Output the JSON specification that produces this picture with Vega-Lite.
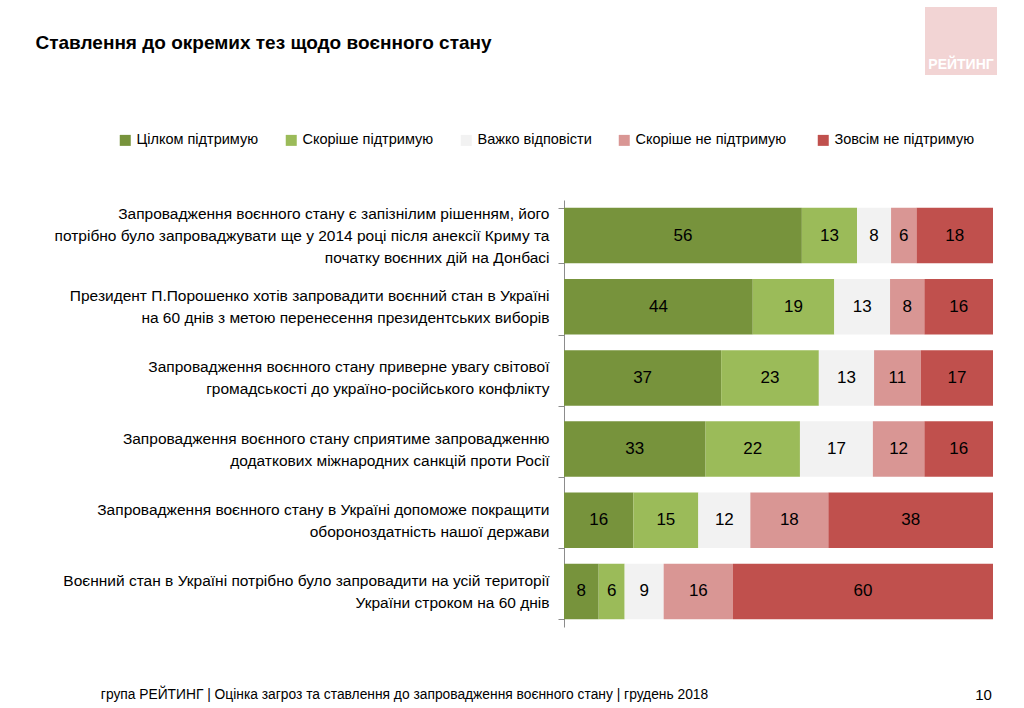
{
  "$schema": "https://vega.github.io/schema/vega-lite/v6.json",
  "width": 429,
  "height": 427,
  "autosize": {"type": "none"},
  "padding": {"left": 564, "top": 200, "right": 31, "bottom": 81},
  "background": "white",
  "config": {"font": "Liberation Sans", "view": {"stroke": null}},
  "data": {
    "values": [
      {"statement": "Запровадження воєнного стану є запізнілим рішенням, його|потрібно було запроваджувати ще у 2014 році після анексії Криму та|початку воєнних дій на Донбасі", "response": "Цілком підтримую", "k": 1, "value": 56},
      {"statement": "Запровадження воєнного стану є запізнілим рішенням, його|потрібно було запроваджувати ще у 2014 році після анексії Криму та|початку воєнних дій на Донбасі", "response": "Скоріше підтримую", "k": 2, "value": 13},
      {"statement": "Запровадження воєнного стану є запізнілим рішенням, його|потрібно було запроваджувати ще у 2014 році після анексії Криму та|початку воєнних дій на Донбасі", "response": "Важко відповісти", "k": 3, "value": 8},
      {"statement": "Запровадження воєнного стану є запізнілим рішенням, його|потрібно було запроваджувати ще у 2014 році після анексії Криму та|початку воєнних дій на Донбасі", "response": "Скоріше  не підтримую", "k": 4, "value": 6},
      {"statement": "Запровадження воєнного стану є запізнілим рішенням, його|потрібно було запроваджувати ще у 2014 році після анексії Криму та|початку воєнних дій на Донбасі", "response": "Зовсім не підтримую", "k": 5, "value": 18},
      {"statement": "Президент П.Порошенко хотів запровадити воєнний стан в Україні|на 60 днів з метою перенесення президентських виборів", "response": "Цілком підтримую", "k": 1, "value": 44},
      {"statement": "Президент П.Порошенко хотів запровадити воєнний стан в Україні|на 60 днів з метою перенесення президентських виборів", "response": "Скоріше підтримую", "k": 2, "value": 19},
      {"statement": "Президент П.Порошенко хотів запровадити воєнний стан в Україні|на 60 днів з метою перенесення президентських виборів", "response": "Важко відповісти", "k": 3, "value": 13},
      {"statement": "Президент П.Порошенко хотів запровадити воєнний стан в Україні|на 60 днів з метою перенесення президентських виборів", "response": "Скоріше  не підтримую", "k": 4, "value": 8},
      {"statement": "Президент П.Порошенко хотів запровадити воєнний стан в Україні|на 60 днів з метою перенесення президентських виборів", "response": "Зовсім не підтримую", "k": 5, "value": 16},
      {"statement": "Запровадження воєнного стану приверне увагу світової|громадськості до україно-російського конфлікту", "response": "Цілком підтримую", "k": 1, "value": 37},
      {"statement": "Запровадження воєнного стану приверне увагу світової|громадськості до україно-російського конфлікту", "response": "Скоріше підтримую", "k": 2, "value": 23},
      {"statement": "Запровадження воєнного стану приверне увагу світової|громадськості до україно-російського конфлікту", "response": "Важко відповісти", "k": 3, "value": 13},
      {"statement": "Запровадження воєнного стану приверне увагу світової|громадськості до україно-російського конфлікту", "response": "Скоріше  не підтримую", "k": 4, "value": 11},
      {"statement": "Запровадження воєнного стану приверне увагу світової|громадськості до україно-російського конфлікту", "response": "Зовсім не підтримую", "k": 5, "value": 17},
      {"statement": "Запровадження воєнного стану сприятиме запровадженню|додаткових міжнародних санкцій проти Росії", "response": "Цілком підтримую", "k": 1, "value": 33},
      {"statement": "Запровадження воєнного стану сприятиме запровадженню|додаткових міжнародних санкцій проти Росії", "response": "Скоріше підтримую", "k": 2, "value": 22},
      {"statement": "Запровадження воєнного стану сприятиме запровадженню|додаткових міжнародних санкцій проти Росії", "response": "Важко відповісти", "k": 3, "value": 17},
      {"statement": "Запровадження воєнного стану сприятиме запровадженню|додаткових міжнародних санкцій проти Росії", "response": "Скоріше  не підтримую", "k": 4, "value": 12},
      {"statement": "Запровадження воєнного стану сприятиме запровадженню|додаткових міжнародних санкцій проти Росії", "response": "Зовсім не підтримую", "k": 5, "value": 16},
      {"statement": "Запровадження воєнного стану в Україні допоможе покращити|обороноздатність нашої держави", "response": "Цілком підтримую", "k": 1, "value": 16},
      {"statement": "Запровадження воєнного стану в Україні допоможе покращити|обороноздатність нашої держави", "response": "Скоріше підтримую", "k": 2, "value": 15},
      {"statement": "Запровадження воєнного стану в Україні допоможе покращити|обороноздатність нашої держави", "response": "Важко відповісти", "k": 3, "value": 12},
      {"statement": "Запровадження воєнного стану в Україні допоможе покращити|обороноздатність нашої держави", "response": "Скоріше  не підтримую", "k": 4, "value": 18},
      {"statement": "Запровадження воєнного стану в Україні допоможе покращити|обороноздатність нашої держави", "response": "Зовсім не підтримую", "k": 5, "value": 38},
      {"statement": "Воєнний стан в Україні потрібно було запровадити на усій території|України строком на 60 днів", "response": "Цілком підтримую", "k": 1, "value": 8},
      {"statement": "Воєнний стан в Україні потрібно було запровадити на усій території|України строком на 60 днів", "response": "Скоріше підтримую", "k": 2, "value": 6},
      {"statement": "Воєнний стан в Україні потрібно було запровадити на усій території|України строком на 60 днів", "response": "Важко відповісти", "k": 3, "value": 9},
      {"statement": "Воєнний стан в Україні потрібно було запровадити на усій території|України строком на 60 днів", "response": "Скоріше  не підтримую", "k": 4, "value": 16},
      {"statement": "Воєнний стан в Україні потрібно було запровадити на усій території|України строком на 60 днів", "response": "Зовсім не підтримую", "k": 5, "value": 60}
    ]
  },
  "transform": [
    {"stack": "value", "groupby": ["statement"], "sort": [{"field": "k", "order": "ascending"}], "as": ["v1", "v2"], "offset": "normalize"}
  ],
  "resolve": {"axis": {"x": "independent"}},
  "layer": [
    {
      "mark": {"type": "bar"},
      "encoding": {
        "y": {
          "field": "statement", "type": "nominal", "sort": null,
          "scale": {"paddingInner": 0.22, "paddingOuter": 0.11},
          "axis": {
            "orient": "left",
            "title": "Ставлення до окремих тез щодо воєнного стану",
            "titleX": -529, "titleY": -158, "titleAngle": 0, "titleAlign": "left", "titleBaseline": "middle",
            "titleFontSize": 19, "titleFontWeight": "bold", "titleFont": "Liberation Sans", "titleColor": "black",
            "labelExpr": "split(datum.label, '|')",
            "labelOffset": {"condition": {"test": "length(split(datum.value, '|')) > 2", "value": -22}, "value": -11},
            "labelFontSize": 15.5, "labelFont": "Liberation Sans", "labelColor": "black",
            "labelLineHeight": 22, "labelPadding": 9, "labelLimit": 0, "labelAlign": "right", "labelBaseline": "middle",
            "tickBand": "extent", "tickSize": 6, "tickColor": "#8c8c8c", "domainColor": "#8c8c8c", "grid": false
          }
        },
        "x": {
          "field": "v1", "type": "quantitative",
          "scale": {"domain": [0, 1], "nice": false, "zero": false},
          "axis": {
            "orient": "bottom", "labels": false, "ticks": false, "domain": false, "grid": false,
            "title": "група РЕЙТИНГ | Оцінка загроз та ставлення до запровадження воєнного стану | грудень 2018",
            "titleX": -160, "titleY": 67, "titleAlign": "center", "titleBaseline": "middle", "titleAnchor": null,
            "titleFontSize": 13.8, "titleFontWeight": "normal", "titleFont": "Liberation Sans", "titleColor": "black"
          }
        },
        "x2": {"field": "v2"},
        "color": {
          "field": "response", "type": "nominal",
          "scale": {
            "domain": ["Цілком підтримую", "Скоріше підтримую", "Важко відповісти", "Скоріше  не підтримую", "Зовсім не підтримую"],
            "range": ["#77933C", "#9BBB59", "#F2F2F2", "#D99694", "#C0504D"]
          },
          "legend": {
            "orient": "none", "legendX": -446, "legendY": -67, "direction": "horizontal", "title": null,
            "symbolType": "square", "symbolSize": 121, "symbolStrokeWidth": 0, "symbolOpacity": 1,
            "labelFontSize": 14.5, "labelFont": "Liberation Sans", "labelColor": "black", "labelOffset": 4, "labelLimit": 400,
            "columnPadding": 25, "padding": 0
          }
        }
      }
    },
    {
      "transform": [
        {"fold": ["v1", "v2"], "as": ["edge", "pos"]},
        {"aggregate": [{"op": "mean", "field": "pos", "as": "mid"}], "groupby": ["statement", "response", "k", "value"]}
      ],
      "mark": {"type": "text", "fontSize": 17, "font": "Liberation Sans", "color": "black", "baseline": "middle", "align": "center"},
      "encoding": {
        "y": {"field": "statement", "type": "nominal", "sort": null},
        "x": {
          "field": "mid", "type": "quantitative",
          "axis": {
            "orient": "bottom", "labels": false, "ticks": false, "domain": false, "grid": false,
            "title": "10", "titleX": 419, "titleY": 67, "titleAlign": "center", "titleBaseline": "middle", "titleAnchor": null,
            "titleFontSize": 15, "titleFontWeight": "normal", "titleFont": "Liberation Sans", "titleColor": "black"
          }
        },
        "text": {"field": "value", "type": "quantitative"},
        "opacity": {
          "datum": "РЕЙТИНГ", "type": "ordinal",
          "scale": {"domain": ["РЕЙТИНГ"], "range": [1]},
          "legend": {
            "orient": "none", "legendX": 361, "legendY": -193, "fillColor": "#F2D4D4", "padding": 3,
            "title": "РЕЙТИНГ", "titleOrient": "bottom", "titleColor": "white", "titleFont": "Liberation Sans",
            "titleFontSize": 14, "titleFontWeight": "bold", "titleAnchor": "middle", "titlePadding": 22,
            "labelExpr": "''", "symbolSize": 1764, "symbolStrokeWidth": 0, "symbolType": "M0,0L0,0",
            "symbolFillColor": "#F2D4D4", "symbolStrokeColor": "#F2D4D4"
          }
        }
      }
    }
  ]
}
